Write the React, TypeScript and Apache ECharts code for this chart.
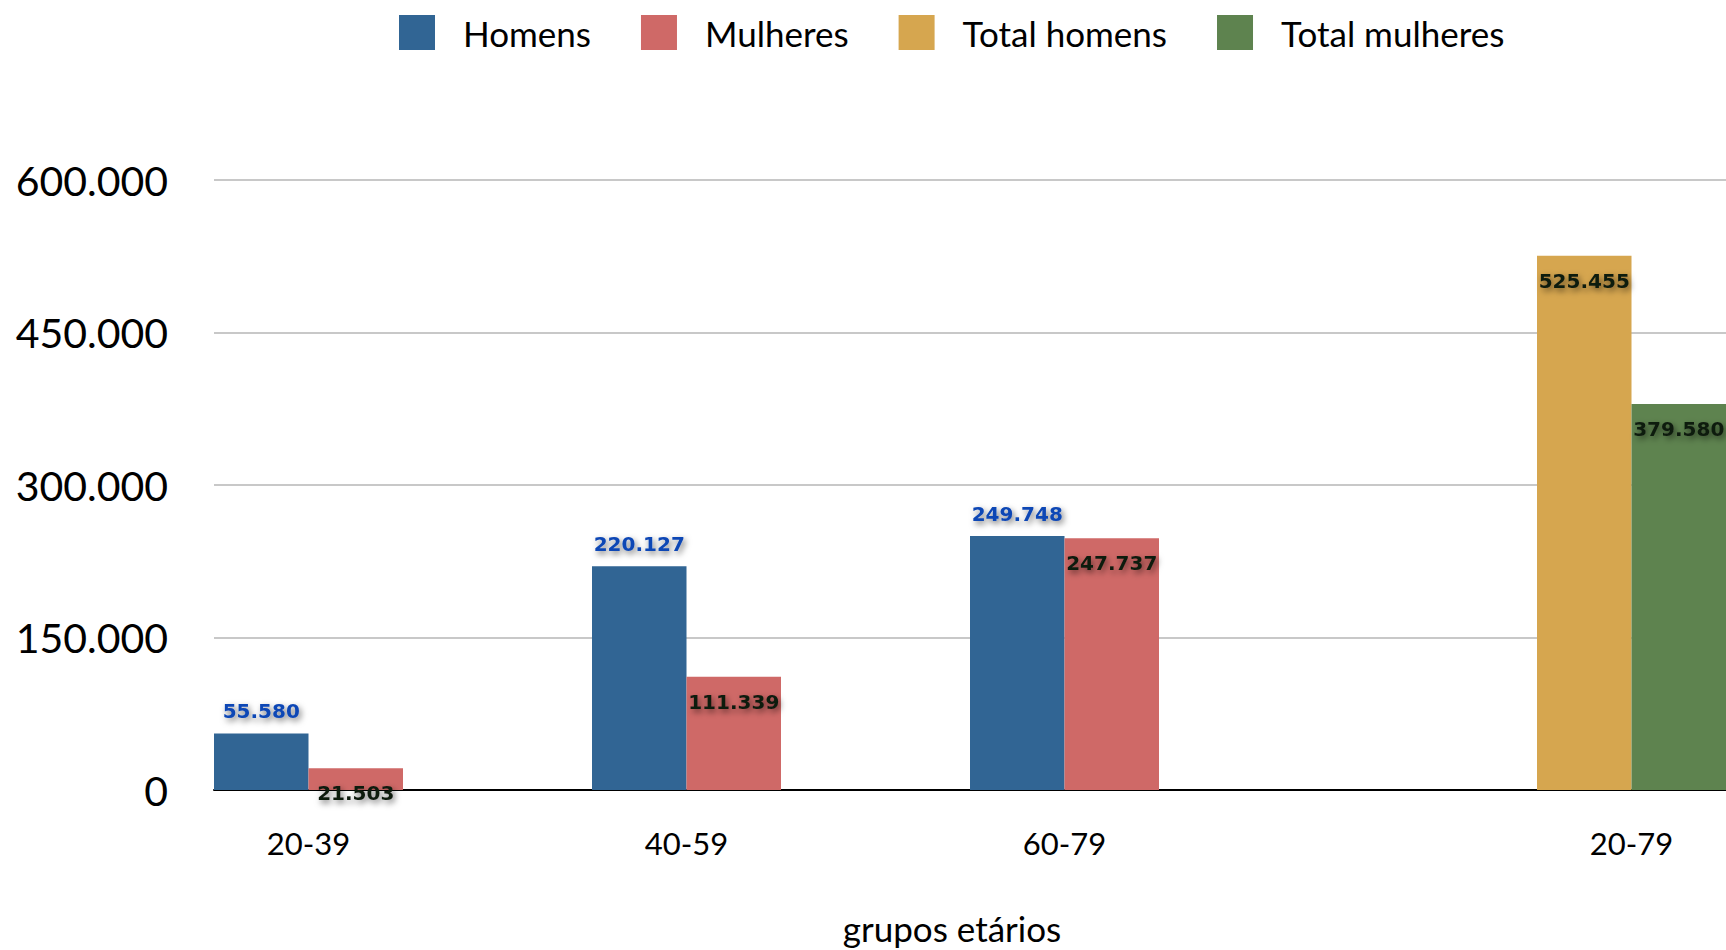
import React, { useEffect, useRef } from "react";
import * as echarts from "echarts";

// Category slots along the x axis (blank entries are spacing slots)
const xSlots = ["20-39", "", "40-59", "", "60-79", "", "", "20-79"];
const homens = [55580, null, 220127, null, 249748, null, null, null];
const mulheres = [21503, null, 111339, null, 247737, null, null, null];
const totalHomens = [null, null, null, null, null, null, null, 525455];
const totalMulheres = [null, null, null, null, null, null, null, 379580];
const yTicks = { min: 0, max: 600000, interval: 150000 };

const fmt = (v: number) => String(Math.round(v)).replace(/\B(?=(\d{3})+(?!\d))/g, ".");

const FONT = "Lato";

const labelBase = {
  show: true,
  fontFamily: "DejaVu Sans",
  fontWeight: "bold" as const,
  fontSize: 20,
  textShadowColor: "rgba(0,0,0,0.55)",
  textShadowBlur: 6,
  textShadowOffsetX: 2,
  textShadowOffsetY: 3,
  formatter: (p: any) => fmt(p.value),
};

export default function App() {
  const ref = useRef<HTMLDivElement>(null);
  useEffect(() => {
    if (!ref.current) return;
    const chart = echarts.init(ref.current, null, { renderer: "svg" });
    chart.setOption({
      animation: false,
      backgroundColor: "#ffffff",
      legend: {
        top: 10,
        left: 394,
        icon: "rect",
        itemWidth: 36,
        itemHeight: 35,
        itemGap: 50,
        textStyle: { fontFamily: FONT, fontSize: 35, color: "#000", padding: [0, 0, 0, 23] },
        data: ["Homens", "Mulheres", "Total homens", "Total mulheres"],
      },
      grid: { left: 214, right: 0, top: 180, bottom: 159, containLabel: false },
      xAxis: {
        type: "category",
        data: xSlots,
        axisLine: { show: true, lineStyle: { color: "#000", width: 2 } },
        axisTick: { show: false },
        axisLabel: { interval: 0, fontFamily: FONT, fontSize: 31, color: "#000", margin: 37 },
        name: "grupos etários",
        nameLocation: "middle",
        nameGap: 120,
        nameTextStyle: { fontFamily: FONT, fontSize: 35, color: "#000", padding: [0, 36, 0, 0] },
      },
      yAxis: {
        type: "value",
        min: yTicks.min,
        max: yTicks.max,
        interval: yTicks.interval,
        axisLine: { show: false },
        axisTick: { show: false },
        axisLabel: { fontFamily: FONT, fontSize: 41, color: "#000", margin: 46, formatter: (v: number) => fmt(v) },
        splitLine: { lineStyle: { color: "#c8c8c8", width: 2 } },
      },
      series: [
        {
          name: "Homens",
          type: "bar",
          stack: "h",
          data: homens,
          barGap: "0%",
          barCategoryGap: "0%",
          itemStyle: { color: "#316594" },
          label: { ...labelBase, position: "top", distance: 12, color: "#0d47b5" },
        },
        {
          name: "Mulheres",
          type: "bar",
          stack: "m",
          data: mulheres,
          barGap: "0%",
          barCategoryGap: "0%",
          itemStyle: { color: "#cf6967" },
          label: { ...labelBase, position: "insideTop", distance: 15, color: "#111a11" },
        },
        {
          name: "Total homens",
          type: "bar",
          stack: "h",
          data: totalHomens,
          barGap: "0%",
          barCategoryGap: "0%",
          itemStyle: { color: "#d6a64f" },
          label: { ...labelBase, position: "insideTop", distance: 15, color: "#111a11" },
        },
        {
          name: "Total mulheres",
          type: "bar",
          stack: "m",
          data: totalMulheres,
          barGap: "0%",
          barCategoryGap: "0%",
          itemStyle: { color: "#5e834f" },
          label: { ...labelBase, position: "insideTop", distance: 15, color: "#111a11" },
        },
      ],
    });
    return () => chart.dispose();
  }, []);
  return (
    <div
      ref={ref}
      style={{ position: "fixed", left: 0, top: 0, width: 1726, height: 950 }}
    />
  );
}
